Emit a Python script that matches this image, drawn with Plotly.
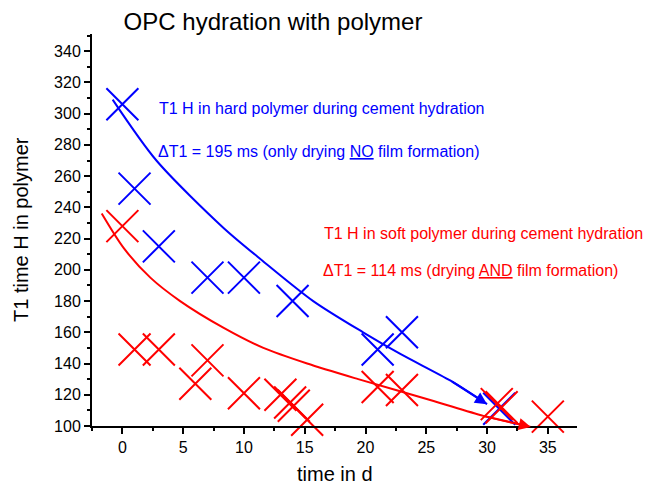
import plotly.graph_objects as go

# measured data (hard polymer = blue, soft polymer = red)
blue_x = [0, 1, 3, 7, 10, 14, 21, 23, 31]
blue_y = [306, 252, 215, 195, 195, 180, 149, 160, 111]
red_x = [0, 1, 3, 6, 7, 10, 13, 13.8, 14.1, 15.2, 21, 23, 30.8, 31.2, 35]
red_y = [228, 149, 149, 127, 142, 121, 120, 115, 113, 104, 125, 123, 114, 112, 106]

# fitted trend curves
blue_fit_x = [-0.8, 2.8, 8.3, 11.5, 15.7, 19.8, 22.9, 27.0, 30.0]
blue_fit_y = [309, 270, 227, 206, 180, 160, 146, 129, 114]
red_fit_x = [-1.7, 0.1, 2.3, 4.75, 8.3, 11.6, 15.2, 19.4, 25.6, 29.7, 33.6]
red_fit_y = [236, 214, 195, 180, 163, 150, 140, 130, 116, 106.5, 99.4]

title_text = "OPC hydration with polymer"
x_title = "time in d"
y_title = "T1 time H in polymer"
blue_text1 = "T1 H in hard polymer during cement hydration"
blue_text2 = "ΔT1 = 195 ms (only drying <u>NO</u> film formation)"
red_text1 = "T1 H in soft polymer during cement hydration"
red_text2 = "ΔT1 = 114 ms (drying <u>AND</u> film formation)"

BLUE = "#0000FF"
RED = "#FF0000"
FONT = "Arial, Liberation Sans, sans-serif"

fig = go.Figure()

fig.add_trace(go.Scatter(x=blue_fit_x, y=blue_fit_y, mode="lines",
                         line=dict(color=BLUE, width=2, shape="spline", smoothing=0.8),
                         showlegend=False, hoverinfo="skip"))
fig.add_trace(go.Scatter(x=red_fit_x, y=red_fit_y, mode="lines",
                         line=dict(color=RED, width=2, shape="spline", smoothing=0.8),
                         showlegend=False, hoverinfo="skip", cliponaxis=False))

fig.add_trace(go.Scatter(x=blue_x, y=blue_y, mode="markers",
                         marker=dict(symbol="x-thin-open", size=32, color=BLUE,
                                     line=dict(color=BLUE, width=2)),
                         showlegend=False, cliponaxis=False))
fig.add_trace(go.Scatter(x=red_x, y=red_y, mode="markers",
                         marker=dict(symbol="x-thin-open", size=32, color=RED,
                                     line=dict(color=RED, width=2)),
                         showlegend=False, cliponaxis=False))

# arrow heads at the end of the trend lines
fig.add_annotation(x=blue_fit_x[-1], y=blue_fit_y[-1], ax=blue_fit_x[-2], ay=blue_fit_y[-2],
                   xref="x", yref="y", axref="x", ayref="y", showarrow=True, text="",
                   arrowhead=2, arrowsize=1.2, arrowwidth=2, arrowcolor=BLUE, standoff=0)
fig.add_annotation(x=red_fit_x[-1], y=red_fit_y[-1], ax=red_fit_x[-2], ay=red_fit_y[-2],
                   xref="x", yref="y", axref="x", ayref="y", showarrow=True, text="",
                   arrowhead=2, arrowsize=1.2, arrowwidth=2, arrowcolor=RED, standoff=0)

def txt(x, y, s, color):
    fig.add_annotation(x=x, y=y, xref="x", yref="y", text=s, showarrow=False,
                       xanchor="left", yanchor="middle",
                       font=dict(family=FONT, size=16, color=color))

txt(2.85, 303.5, blue_text1, BLUE)
txt(2.8, 275.5, blue_text2, BLUE)
txt(16.4, 223, red_text1, RED)
txt(16.35, 199.5, red_text2, RED)

# axis titles placed as paper annotations
fig.add_annotation(x=0.5, y=(426 - 474) / 392, xref="paper", yref="paper", text=x_title,
                   showarrow=False, xanchor="center", yanchor="middle",
                   font=dict(family=FONT, size=20, color="black"))
fig.add_annotation(x=(21 - 92) / 485, y=0.5, xref="paper", yref="paper", text=y_title,
                   showarrow=False, xanchor="center", yanchor="middle", textangle=-90,
                   font=dict(family=FONT, size=20, color="black"))

fig.update_layout(
    width=650, height=484,
    margin=dict(l=92, r=73, t=34, b=58),
    paper_bgcolor="white", plot_bgcolor="white",
    font=dict(family=FONT, size=16, color="black"),
    title=dict(text=title_text, x=273 / 650, xanchor="center", xref="container",
               y=1 - 22 / 484, yanchor="middle", yref="container",
               font=dict(family=FONT, size=24, color="black")),
    showlegend=False,
)
fig.update_xaxes(range=[-2.5, 37.4], tick0=0, dtick=5, showgrid=False, zeroline=False,
                 showline=True, linecolor="black", linewidth=2, automargin=False,
                 ticks="outside", ticklen=6, tickwidth=1.5, tickcolor="black",
                 minor=dict(dtick=2.5, tick0=0, ticks="outside", ticklen=3, tickcolor="black", tickwidth=1.5),
                 tickfont=dict(size=16))
fig.update_yaxes(range=[100, 351], tick0=100, dtick=20, showgrid=False, zeroline=False,
                 showline=True, linecolor="black", linewidth=2, automargin=False,
                 ticks="outside", ticklen=6, tickwidth=1.5, tickcolor="black",
                 minor=dict(dtick=10, tick0=100, ticks="outside", ticklen=3, tickcolor="black", tickwidth=1.5),
                 tickfont=dict(size=16))

fig.write_html("out.html")
